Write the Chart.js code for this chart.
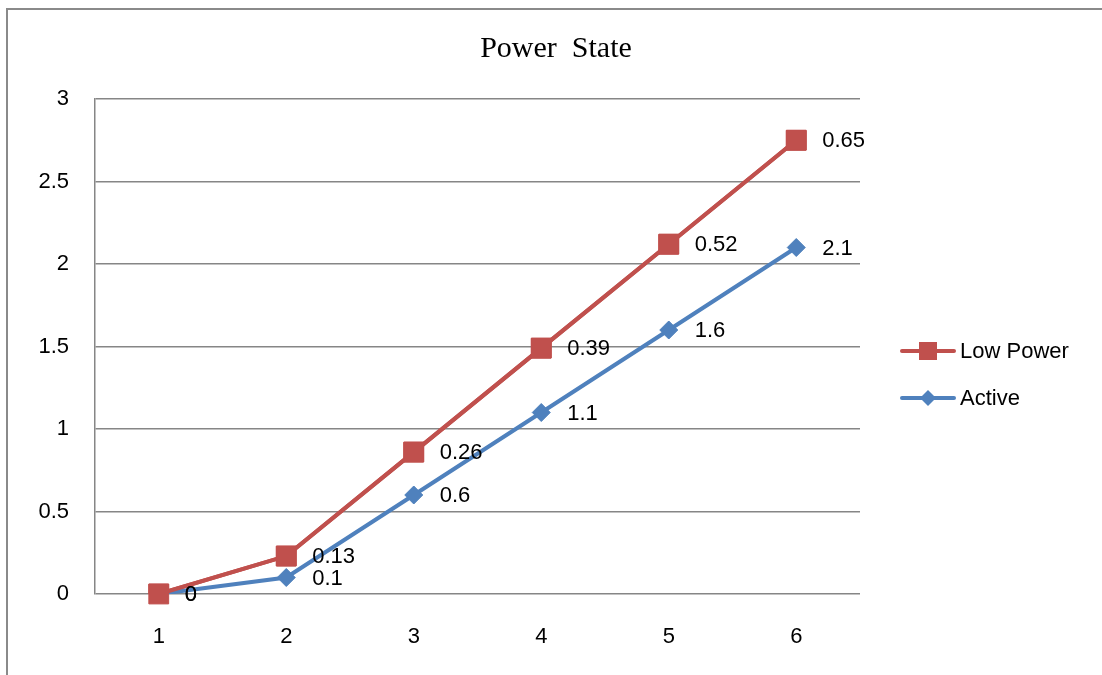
<!DOCTYPE html>
<html>
<head>
<meta charset="utf-8">
<script src="https://cdn.jsdelivr.net/npm/chart.js@4/dist/chart.umd.min.js"></script>
<style>
  body { margin: 0; background: #fff; }
  #wrap { width: 1102px; height: 675px; }
</style>
</head>
<body>
<div id="wrap"><canvas id="chart" width="1102" height="675"></canvas></div>
<script>
const categories = ['1', '2', '3', '4', '5', '6'];
const activeValues = [0, 0.1, 0.6, 1.1, 1.6, 2.1];
const lowPowerValues = [0, 0.13, 0.26, 0.39, 0.52, 0.65];
const yTicks = [0, 0.5, 1, 1.5, 2, 2.5, 3];

const red = '#C0504D';
const blue = '#4F81BD';
const gridColor = '#868686';
const fontFamily = '"Liberation Sans", Arial, sans-serif';
const labelFont = '22px ' + fontFamily;

// frame, title, point labels and the right-hand legend
const decorPlugin = {
    id: 'decor',
    beforeDraw(chart) {
        const ctx = chart.ctx;
        ctx.save();
        ctx.fillStyle = '#fff';
        ctx.fillRect(0, 0, chart.width, chart.height);
        ctx.strokeStyle = '#8a8a8a';
        ctx.lineWidth = 2;
        ctx.strokeRect(7, 9, 2000, 2000);
        ctx.fillStyle = '#000';
        ctx.font = '30px "Liberation Serif", "Times New Roman", serif';
        ctx.textAlign = 'center';
        ctx.textBaseline = 'alphabetic';
        ctx.fillText('Power  State', 556, 57);
        ctx.restore();
    },
    afterDatasetsDraw(chart) {
        // low power sits on top of the active line in the original
        chart.getDatasetMeta(1).controller.draw();

        const ctx = chart.ctx;
        ctx.save();
        ctx.font = labelFont;
        ctx.fillStyle = '#000';
        ctx.textAlign = 'left';
        ctx.textBaseline = 'middle';
        chart.data.datasets.forEach((ds, di) => {
            chart.getDatasetMeta(di).data.forEach((pt, i) => {
                ctx.fillText(String(ds.data[i]), pt.x + 26, pt.y + 1);
            });
        });

        const items = [chart.data.datasets[1], chart.data.datasets[0]];
        items.forEach((ds, k) => {
            const y = 351 + k * 47;
            ctx.strokeStyle = ds.borderColor;
            ctx.lineWidth = 4;
            ctx.lineCap = 'round';
            ctx.beginPath();
            ctx.moveTo(902, y);
            ctx.lineTo(954, y);
            ctx.stroke();
            ctx.fillStyle = ds.borderColor;
            ctx.beginPath();
            if (ds.pointStyle === 'rect') {
                ctx.rect(919, y - 9, 18, 18);
            } else {
                ctx.moveTo(928, y - 8);
                ctx.lineTo(936, y);
                ctx.lineTo(928, y + 8);
                ctx.lineTo(920, y);
                ctx.closePath();
            }
            ctx.fill();
            ctx.fillStyle = '#000';
            ctx.fillText(ds.label, 960, y + 1);
        });
        ctx.restore();
    }
};

new Chart(document.getElementById('chart'), {
    type: 'line',
    data: {
        labels: categories,
        datasets: [{
            label: 'Active',
            data: activeValues,
            borderColor: blue,
            backgroundColor: blue,
            borderWidth: 4,
            pointStyle: 'rectRot',
            pointRadius: 9,
            pointBorderWidth: 1,
            tension: 0,
            fill: false
        }, {
            label: 'Low Power',
            data: lowPowerValues,
            borderColor: red,
            backgroundColor: red,
            borderWidth: 4,
            pointStyle: 'rect',
            pointRadius: 14,
            pointBorderWidth: 1,
            tension: 0,
            fill: false
        }]
    },
    options: {
        responsive: false,
        devicePixelRatio: 1,
        animation: false,
        layout: {
            padding: { top: 99, right: 242, left: 0, bottom: 0 }
        },
        plugins: {
            legend: { display: false },
            title: { display: false },
            tooltip: { enabled: false }
        },
        scales: {
            x: {
                offset: true,
                grid: { display: false },
                border: { display: false },
                ticks: {
                    color: '#000',
                    font: { family: fontFamily, size: 22 },
                    padding: 22,
                    maxRotation: 0
                },
                afterFit: (s) => { s.height = 81; }
            },
            y: {
                stacked: true,
                min: yTicks[0],
                max: yTicks[yTicks.length - 1],
                afterBuildTicks: (s) => { s.ticks = yTicks.map(v => ({ value: v })); },
                grid: { color: gridColor, lineWidth: 1.5, drawTicks: false },
                border: { display: true, color: gridColor, width: 1.5 },
                ticks: {
                    color: '#000',
                    font: { family: fontFamily, size: 22 },
                    padding: 26,
                    callback: (v) => String(v)
                },
                afterFit: (s) => { s.width = 95; }
            }
        }
    },
    plugins: [decorPlugin]
});
</script>
</body>
</html>
